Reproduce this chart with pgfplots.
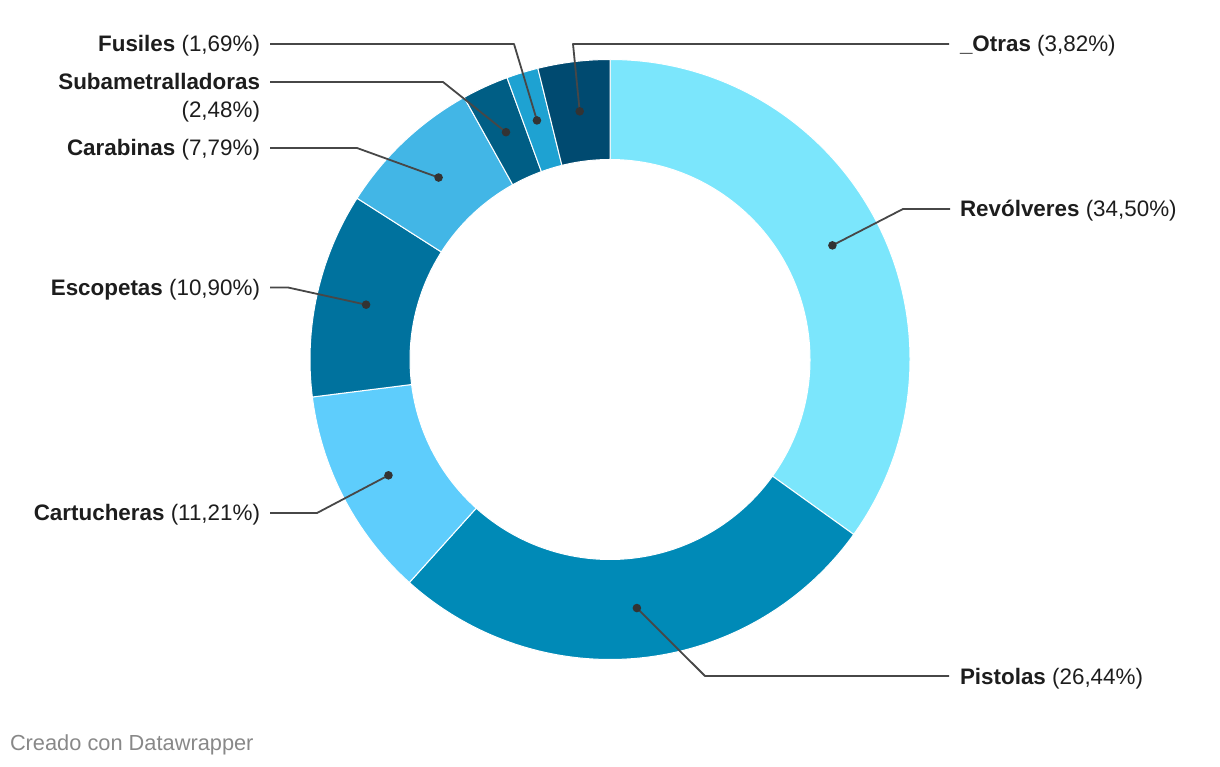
\documentclass[border=0pt]{standalone}
\usepackage{pgfplots}
\pgfplotsset{compat=1.18}
\usepackage{pgfplotstable}
\usepackage{fontspec}
\setmainfont{Liberation Sans}
\definecolor{c0}{HTML}{7BE6FC}
\definecolor{c1}{HTML}{008AB7}
\definecolor{c2}{HTML}{5ECDFC}
\definecolor{c3}{HTML}{00729E}
\definecolor{c4}{HTML}{42B6E6}
\definecolor{c5}{HTML}{005E85}
\definecolor{c6}{HTML}{1EA2D2}
\definecolor{c7}{HTML}{004A70}
\definecolor{txt}{HTML}{1D1D1D}
\definecolor{lead}{HTML}{474747}
\definecolor{dotc}{HTML}{333333}
\definecolor{foot}{HTML}{888888}

% share (%) of each category, clockwise from the top; kx ky = kink of the leader line, ex = its end
\pgfplotstableread{
name pct col kx ky ex
Revolveres 34.50 c0 903 557 950
Pistolas 26.44 c1 705 90 949
Cartucheras 11.21 c2 317 253 270
Escopetas 10.90 c3 288 478.5 270
Carabinas 7.79 c4 357 618 270
Subametralladoras 2.48 c5 443 684 270
Fusiles 1.69 c6 514 722 270
Otras 3.82 c7 573 722 949
}\datatable

\pgfmathsetmacro{\total}{0}
\pgfplotstableforeachcolumnelement{pct}\of\datatable\as\cellval{%
  \pgfmathsetmacro{\tmpsum}{\total+\cellval}\global\let\total\tmpsum}

\newcommand{\cx}{610}
\newcommand{\cy}{406.5}

\begin{document}
\begin{tikzpicture}
\begin{axis}[x=1pt,y=1pt,xmin=0,xmax=1220,ymin=0,ymax=766,hide axis,clip=false]
\path (axis cs:0,0) rectangle (axis cs:1220,766);
% wedges
\xdef\cum{0}
\foreach \i in {0,...,7}{
  \pgfplotstablegetelem{\i}{pct}\of\datatable \let\val\pgfplotsretval
  \pgfplotstablegetelem{\i}{col}\of\datatable \let\colname\pgfplotsretval
  \pgfmathsetmacro{\angA}{90-\cum/\total*360}
  \pgfmathsetmacro{\angB}{90-(\cum+\val)/\total*360}
  \pgfmathsetmacro{\xO}{\cx+300*cos(\angA)}
  \pgfmathsetmacro{\yO}{\cy+300*sin(\angA)}
  \pgfmathsetmacro{\xI}{\cx+200*cos(\angB)}
  \pgfmathsetmacro{\yI}{\cy+200*sin(\angB)}
  \edef\temp{\noexpand\fill[fill=\colname, draw=white, line width=1pt] (axis cs:\xO,\yO) arc[start angle=\angA, end angle=\angB, radius=300pt] -- (axis cs:\xI,\yI) arc[start angle=\angB, end angle=\angA, radius=200pt] -- cycle;}
  \temp
  \pgfmathsetmacro{\newcum}{\cum+\val}
  \xdef\cum{\newcum}
}
% leader lines and dots
\xdef\cum{0}
\foreach \i in {0,...,7}{
  \pgfplotstablegetelem{\i}{pct}\of\datatable \let\val\pgfplotsretval
  \pgfplotstablegetelem{\i}{kx}\of\datatable \let\kx\pgfplotsretval
  \pgfplotstablegetelem{\i}{ky}\of\datatable \let\ky\pgfplotsretval
  \pgfplotstablegetelem{\i}{ex}\of\datatable \let\ex\pgfplotsretval
  \pgfmathsetmacro{\angM}{90-(\cum+\val/2)/\total*360}
  \pgfmathsetmacro{\xM}{\cx+250*cos(\angM)}
  \pgfmathsetmacro{\yM}{\cy+250*sin(\angM)}
  \edef\temp{\noexpand\draw[lead, line width=1.8pt, line join=round] (axis cs:\xM,\yM) -- (axis cs:\kx,\ky) -- (axis cs:\ex,\ky);
    \noexpand\fill[dotc] (axis cs:\xM,\yM) circle[radius=4.3pt];}
  \temp
  \pgfmathsetmacro{\newcum}{\cum+\val}
  \xdef\cum{\newcum}
}
% labels
\begin{scope}[every node/.style={inner sep=0pt, outer sep=0pt, text=txt, font=\fontsize{22.4}{28}\selectfont}]
\node[anchor=base west] at (axis cs:960,549) {\textbf{Revólveres} (34,50\%)};
\node[anchor=base west] at (axis cs:960,82) {\textbf{Pistolas} (26,44\%)};
\node[anchor=base west] at (axis cs:960,714) {\textbf{\_Otras} (3,82\%)};
\node[anchor=base east] at (axis cs:260,245) {\textbf{Cartucheras} (11,21\%)};
\node[anchor=base east] at (axis cs:260,470.5) {\textbf{Escopetas} (10,90\%)};
\node[anchor=base east] at (axis cs:260,610) {\textbf{Carabinas} (7,79\%)};
\node[anchor=base east] at (axis cs:260,676) {\textbf{Subametralladoras}};
\node[anchor=base east] at (axis cs:260,648) {(2,48\%)};
\node[anchor=base east] at (axis cs:260,714) {\textbf{Fusiles} (1,69\%)};
\node[anchor=base west, text=foot, font=\fontsize{21.8}{26}\selectfont] at (axis cs:10,16) {Creado con Datawrapper};
\end{scope}
\end{axis}
\end{tikzpicture}
\end{document}
